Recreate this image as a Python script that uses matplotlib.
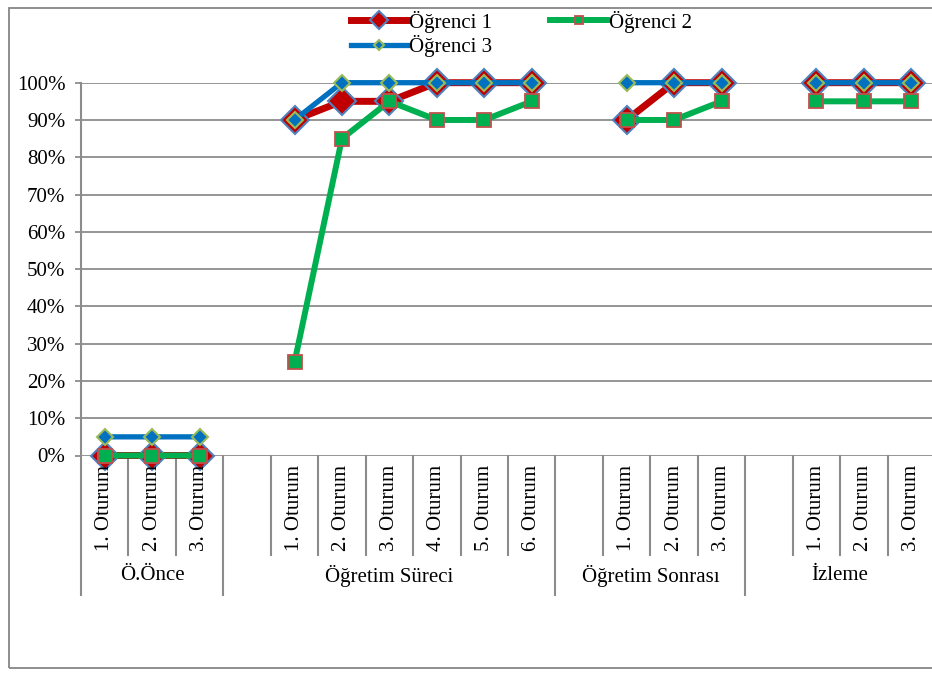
import numpy as np
import matplotlib
matplotlib.use("Agg")
import matplotlib.pyplot as plt
from matplotlib.patches import Rectangle
from matplotlib.ticker import FuncFormatter

plt.rcParams['font.family'] = ['Liberation Serif', 'DejaVu Serif']

# categories (empty strings are the gaps between phases)
groups = ["Ö.Önce", "Öğretim Süreci", "Öğretim Sonrası", "İzleme"]
group_sizes = [3, 7, 4, 4]
sessions = ["1. Oturum", "2. Oturum", "3. Oturum", "",
            "1. Oturum", "2. Oturum", "3. Oturum", "4. Oturum", "5. Oturum", "6. Oturum", "",
            "1. Oturum", "2. Oturum", "3. Oturum", "",
            "1. Oturum", "2. Oturum", "3. Oturum"]

nan = np.nan
ogrenci1 = [0, 0, 0, nan, 90, 95, 95, 100, 100, 100, nan, 90, 100, 100, nan, 100, 100, 100]
ogrenci2 = [0, 0, 0, nan, 25, 85, 95, 90, 90, 95, nan, 90, 90, 95, nan, 95, 95, 95]
ogrenci3 = [5, 5, 5, nan, 90, 100, 100, 100, 100, 100, nan, 100, 100, 100, nan, 100, 100, 100]

W, H = 932, 673
fig = plt.figure(figsize=(W / 100, H / 100), dpi=100)

# plot area in pixels: x 81..935, y 82.7..455.5
x0, x1, ytop, ybot = 81, 935, 82.7, 455.5
ax = fig.add_axes([x0 / W, (H - ybot) / H, (x1 - x0) / W, (ybot - ytop) / H])
axh = ybot - ytop

grid_c = "#8c8c8c"
n = len(sessions)
x = np.arange(n)

ax.plot(x, ogrenci1, color="#C00000", lw=5, marker="D", ms=14.5,
        mfc="#C00000", mec="#4F81BD", mew=1.5, label="Öğrenci 1", zorder=3, clip_on=False)
ax.plot(x, ogrenci2, color="#00B050", lw=4.3, marker="s", ms=10.5,
        mfc="#00B050", mec="#C0504D", mew=1.3, label="Öğrenci 2", zorder=4, clip_on=False)
ax.plot(x, ogrenci3, color="#0070C0", lw=3.8, marker="D", ms=8,
        mfc="#0070C0", mec="#9BBB59", mew=1.5, label="Öğrenci 3", zorder=5, clip_on=False)

ax.set_xlim(-0.5, n - 0.5)
ax.set_ylim(0, 100)
ax.set_yticks(np.arange(0, 101, 10))
ax.yaxis.set_major_formatter(FuncFormatter(lambda v, p: f"{int(v)}%"))
ax.tick_params(axis="y", length=4.3, width=1.3, color=grid_c, pad=7, labelsize=15)
ax.set_xticks([])
ax.grid(axis="y", color=grid_c, lw=1.3)
ax.set_axisbelow(True)
for s in ["top", "right", "bottom", "left"]:
    ax.spines[s].set_visible(False)

trans = ax.get_xaxis_transform()
short_y = -(555 - ybot) / axh
long_y = -(595 - ybot) / axh

# left axis line running down to the group row
ax.plot([-0.5, -0.5], [1, long_y], transform=trans, color=grid_c, lw=1.5, clip_on=False)

# category / group separators
bounds = np.cumsum(group_sizes) - 0.5
for b in np.arange(0.5, n - 0.5, 1.0):
    if b in bounds:
        ax.plot([b, b], [0, long_y], transform=trans, color=grid_c, lw=1.5, clip_on=False)
    else:
        ax.plot([b, b], [0, short_y], transform=trans, color=grid_c, lw=1.5, clip_on=False)

# session labels
lab_y = -(465 - ybot) / axh
for i, s in enumerate(sessions):
    if s:
        ax.text(i, lab_y, s, transform=trans, rotation=90, ha="center", va="top",
                fontsize=15, clip_on=False)

# group labels
grp_y = -(576 - ybot) / axh
start = -0.5
for g, sz in zip(groups, group_sizes):
    ax.text(start + sz / 2, grp_y, g, transform=trans, ha="center", va="center",
            fontsize=15, clip_on=False)
    start += sz

# legend, row-major order
h, l = ax.get_legend_handles_labels()
order = [0, 2, 1]
fig.legend([h[i] for i in order], [l[i] for i in order], ncol=2,
           loc="upper left", bbox_to_anchor=(336 / W, 1 + 4 / H), frameon=False,
           fontsize=15, handlelength=2.7, handletextpad=0.1, columnspacing=2.8,
           labelspacing=0.1, markerscale=0.6, borderpad=0.2)

# outer chart border
fig.patches.append(Rectangle((9 / W, 5 / H), 940 / W, (668 - 8) / H, transform=fig.transFigure,
                             fill=False, ec="#868686", lw=1.3))

fig.savefig("out.png", dpi=100)
